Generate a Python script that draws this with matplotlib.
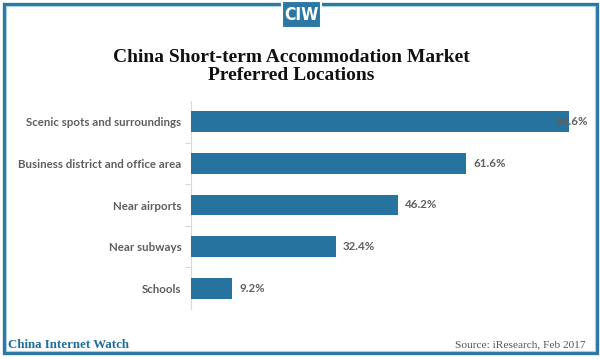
import matplotlib
matplotlib.use("Agg")
import matplotlib.pyplot as plt
from matplotlib.patches import Rectangle
from matplotlib.ticker import FixedLocator

categories = ["Scenic spots and surroundings", "Business district and office area",
              "Near airports", "Near subways", "Schools"]
values = [84.6, 61.6, 46.2, 32.4, 9.2]
value_labels = ["84.6%", "61.6%", "46.2%", "32.4%", "9.2%"]

W, H = 600, 359
fig = plt.figure(figsize=(6.0, 3.59), dpi=100)
fig.patch.set_facecolor("white")

blue = "#2b78a3"
bar_color = "#2673a0"
gray_text = "#5f5f5f"

def fx(px):
    return px / W

def fy(py):
    return 1 - py / H

# frame
fig.patches.append(Rectangle((fx(3.5), fy(353)), fx(593.5), 349.5 / H,
                             transform=fig.transFigure, fill=False,
                             edgecolor=blue, linewidth=2.4, zorder=5))
fig.patches.append(Rectangle((fx(6), fy(350.5)), fx(588.5), 344.5 / H,
                             transform=fig.transFigure, fill=False,
                             edgecolor="#a9cfe3", linewidth=0.8, zorder=5))
# CIW badge
fig.patches.append(Rectangle((fx(282), fy(28)), fx(39), 27 / H,
                             transform=fig.transFigure, facecolor=blue,
                             edgecolor="white", linewidth=1.5, zorder=6))
fig.text(fx(301.5), fy(15.5), "CIW", color="white", fontsize=12.5,
         fontweight="bold", family="DejaVu Sans", fontstretch="condensed",
         ha="center", va="center", zorder=7)

# title
fig.text(fx(291), fy(57), "China Short-term Accommodation Market",
         ha="center", va="center", fontsize=14, fontweight="bold",
         family="Liberation Serif", color="#111111")
fig.text(fx(291), fy(76), "Preferred Locations",
         ha="center", va="center", fontsize=14, fontweight="bold",
         family="Liberation Serif", color="#111111")

# footer
fig.text(fx(8), fy(345), "China Internet Watch", ha="left", va="center",
         fontsize=9.3, fontweight="bold", family="Liberation Serif", color="#1f6e9c")
fig.text(fx(586), fy(345), "Source: iResearch, Feb 2017", ha="right", va="center",
         fontsize=8.2, family="Liberation Serif", color="#555555")

# axes
ax = fig.add_axes([fx(191), fy(309), fx(590 - 191), (309 - 101) / H])
n = len(categories)
ypos = list(range(n))
ax.barh(ypos, values, height=0.5, color=bar_color, zorder=3)
ax.set_ylim(n - 0.5, -0.5)
xmax = (590 - 191) / 4.47
ax.set_xlim(0, xmax)
ax.set_yticks(ypos)
ax.set_yticklabels(categories, fontsize=8.3, fontweight="bold", color=gray_text,
                   family="Lato")
ax.yaxis.set_minor_locator(FixedLocator([i + 0.5 for i in range(n - 1)]))
ax.tick_params(axis="y", which="major", length=0, pad=7)
ax.tick_params(axis="y", which="minor", length=4, color="#d9d9d9", width=0.8)
ax.set_xticks([])
for s in ["top", "right", "bottom"]:
    ax.spines[s].set_visible(False)
ax.spines["left"].set_color("#d9d9d9")
ax.spines["left"].set_linewidth(0.8)

label_limit = xmax - 7.7
for y, v, t in zip(ypos, values, value_labels):
    x = min(v + 1.6, label_limit)
    ax.text(x, y, t, ha="left", va="center", fontsize=8.3, fontweight="bold",
            color=gray_text, family="Lato", zorder=4)

fig.savefig("out.png", dpi=100, facecolor="white")
